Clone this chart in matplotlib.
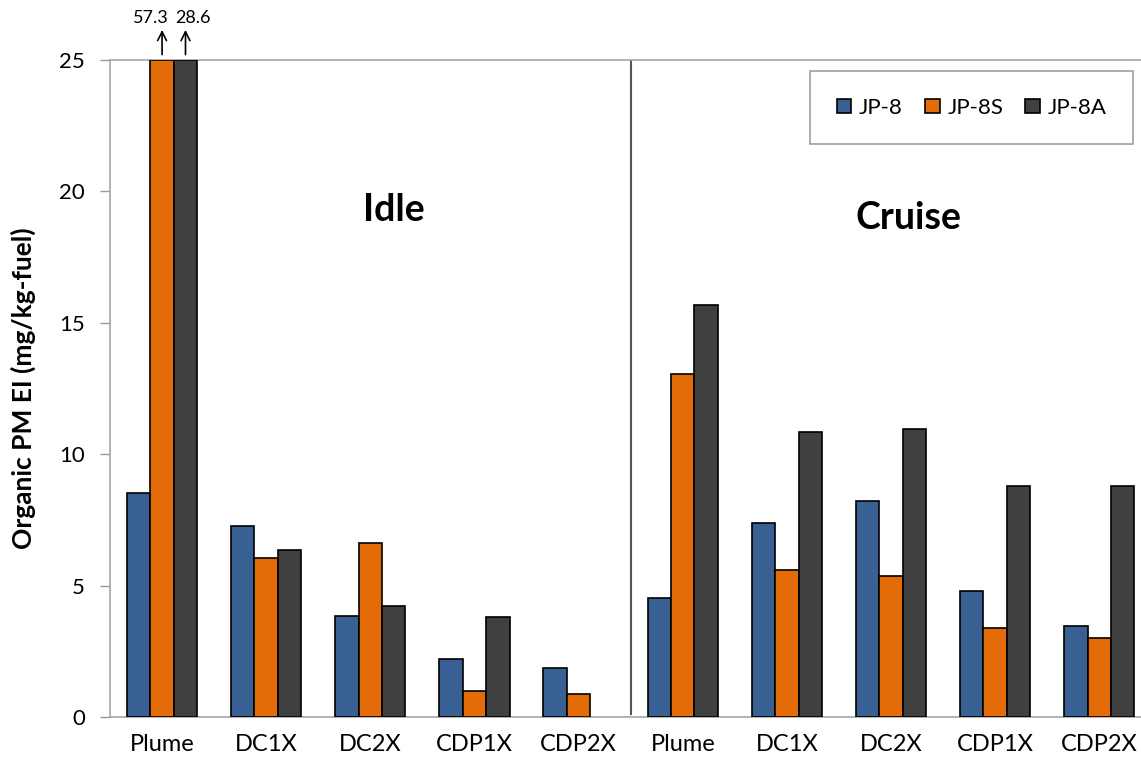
import matplotlib.pyplot as plt
import numpy as np

plt.rcParams['font.family'] = ['Lato', 'DejaVu Sans']

# data (two groups of five sampling points)
categories = ['Plume', 'DC1X', 'DC2X', 'CDP1X', 'CDP2X',
              'Plume', 'DC1X', 'DC2X', 'CDP1X', 'CDP2X']
series = ['JP-8', 'JP-8S', 'JP-8A']
jp8 = [8.52, 7.27, 3.84, 2.21, 1.86, 4.52, 7.39, 8.22, 4.81, 3.48]
jp8s = [57.3, 6.05, 6.64, 0.98, 0.86, 13.05, 5.58, 5.37, 3.37, 2.99]
jp8a = [28.6, 6.35, 4.24, 3.80, np.nan, 15.66, 10.86, 10.96, 8.79, 8.79]
colors = ['#386093', '#E36C09', '#404040']
ymax = 25

fig = plt.figure(figsize=(11.41, 7.65), dpi=100)
ax = fig.add_axes([0.0964, 0.0627, 0.9036, 0.8589])

x = np.arange(len(categories))
w = 0.225
for i, (vals, name) in enumerate(zip([jp8, jp8s, jp8a], series)):
    v = np.minimum(vals, ymax)  # bars above the axis are cut at the top
    ax.bar(x + (i - 1) * w, v, w, color=colors[i], edgecolor='black',
           linewidth=1.2, label=name, zorder=3)

ax.set_xlim(-0.5, 9.4)
ax.set_ylim(0, ymax)
ax.set_yticks([0, 5, 10, 15, 20, 25])
ax.set_xticks(x)
ax.set_xticklabels(categories)
ax.tick_params(axis='x', length=0, pad=12, labelsize=17)
ax.tick_params(axis='y', length=7, width=1, color='#999999', pad=11, labelsize=16)

for s in ['left', 'bottom', 'top']:
    ax.spines[s].set_color('#A6A6A6')
    ax.spines[s].set_linewidth(1.2)
ax.spines['right'].set_visible(False)

# separator between idle and cruise
ax.plot([4.5, 4.5], [0.1, ymax], color='#555555', lw=1.5, zorder=2)

ax.text(2.23, 19.3, 'Idle', fontsize=27, fontweight='bold', ha='center', va='center')
ax.text(7.17, 19.0, 'Cruise', fontsize=27, fontweight='bold', ha='center', va='center')

ax.set_ylabel('Organic PM EI (mg/kg-fuel)', fontsize=19, fontweight='bold', labelpad=17)

# off-scale values
offsets = {1: -0.11, 2: 0.07}
for i, vals in [(1, jp8s), (2, jp8a)]:
    if vals[0] > ymax:
        xi = x[0] + (i - 1) * w
        ax.annotate('', xy=(xi, ymax + 1.25), xytext=(xi, ymax + 0.1),
                    arrowprops=dict(arrowstyle='->', color='black', lw=1.2,
                                    mutation_scale=16),
                    annotation_clip=False)
        ax.text(xi + offsets[i], ymax + 1.3, f'{vals[0]:.1f}', fontsize=13,
                ha='center', va='bottom', clip_on=False)

leg = ax.legend(loc='upper right', bbox_to_anchor=(0.9925, 0.983), ncol=3,
                fontsize=16, frameon=True, fancybox=False, handlelength=0.65,
                handleheight=0.65, handletextpad=0.35, columnspacing=1.0,
                borderpad=1.2, borderaxespad=0)
leg.get_frame().set_edgecolor('#888888')
leg.get_frame().set_linewidth(1.2)

fig.savefig('out.png', dpi=100)
